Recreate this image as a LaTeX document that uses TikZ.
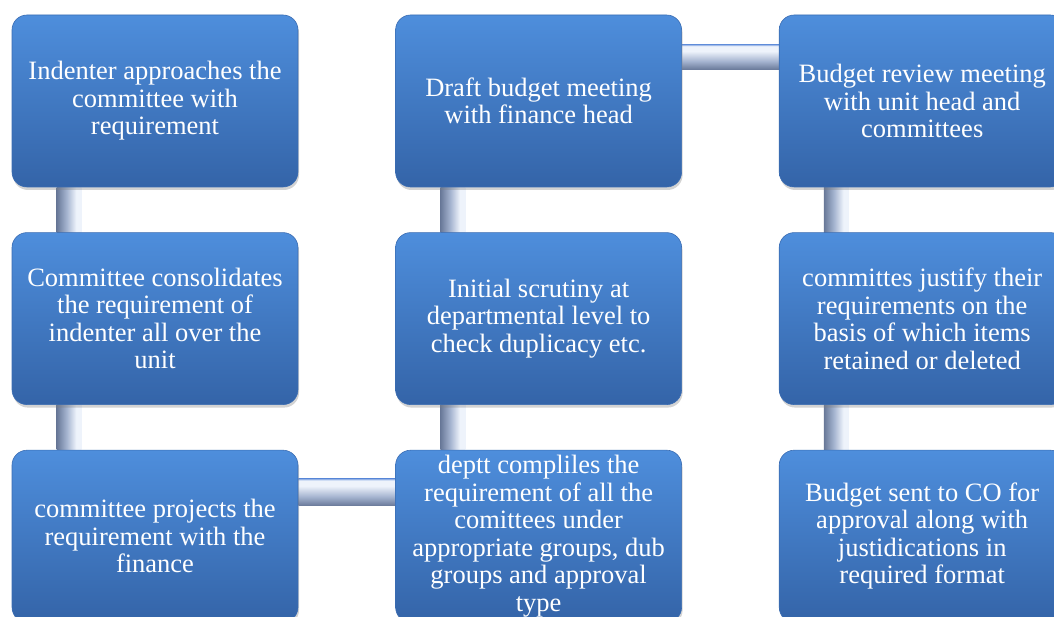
\documentclass[tikz,border=0pt]{standalone}
\usepackage{fontspec}
\setmainfont{Liberation Serif}
\usepackage{xcolor}
\usetikzlibrary{positioning, shadows, backgrounds}

\definecolor{boxtop}{RGB}{78,142,220}
\definecolor{boxbot}{RGB}{52,100,168}
\definecolor{boxedge}{RGB}{58,108,178}
\definecolor{pipelight}{RGB}{238,243,251}
\definecolor{pipemid}{RGB}{165,180,208}
\definecolor{pipeshadow}{RGB}{104,120,152}
\definecolor{pipetop}{RGB}{140,172,228}

\pgfdeclareverticalshading{hpipe}{100bp}{color(0bp)=(pipeshadow); color(25bp)=(pipeshadow); color(42bp)=(pipemid); color(62bp)=(pipelight); color(72bp)=(pipelight); color(75bp)=(pipetop); color(100bp)=(pipetop)}
\pgfdeclarehorizontalshading{vpipe}{100bp}{color(0bp)=(pipeshadow); color(25bp)=(pipeshadow); color(45bp)=(pipemid); color(64bp)=(pipelight); color(75bp)=(pipelight); color(100bp)=(pipelight)}

\tikzset{
  stepbox/.style={rectangle, rounded corners=15pt, minimum width=286pt, minimum height=172pt,
    top color=boxtop, bottom color=boxbot, draw=boxedge, line width=0.6pt,
    drop shadow={shadow xshift=1pt, shadow yshift=-3pt, opacity=0.35},
    text=white, align=center, inner sep=2pt,
    font=\fontsize{26.5}{27.5}\selectfont},
  hbar/.style={shading=hpipe},
  vbar/.style={shading=vpipe}
}

\begin{document}
\begin{tikzpicture}[node distance=45pt and 97pt]
  \useasboundingbox (0,0) rectangle (1054pt,617pt);

  \node[stepbox] (S1) at (155pt,516pt) {Indenter approaches the\\committee with\\requirement};
  \node[stepbox, below=of S1] (S2) {Committee consolidates\\the requirement of\\indenter all over the\\unit};
  \node[stepbox, below=of S2] (S3) {committee projects the\\requirement with the\\finance};
  \node[stepbox, right=of S3] (S4) {deptt compliles the\\requirement of all the\\comittees under\\appropriate groups, dub\\groups and approval\\type};
  \node[stepbox, above=of S4] (S5) {Initial scrutiny at\\departmental level to\\check duplicacy etc.};
  \node[stepbox, above=of S5] (S6) {Draft budget meeting\\with finance head};
  \node[stepbox, right=of S6] (S7) {Budget review meeting\\with unit head and\\committees};
  \node[stepbox, below=of S7] (S8) {committes justify their\\requirements on the\\basis of which items\\retained or deleted};
  \node[stepbox, below=of S8] (S9) {Budget sent to CO for\\approval along with\\justidications in\\required format};

  \begin{scope}[on background layer]
    \shade[vbar] ([xshift=45pt]S1.south west) rectangle ([xshift=70pt]S2.north west);
    \shade[vbar] ([xshift=45pt]S2.south west) rectangle ([xshift=70pt]S3.north west);
    \shade[hbar] ([yshift=-29pt]S3.north east) rectangle ([yshift=-56pt]S4.north west);
    \shade[vbar] ([xshift=45pt]S5.south west) rectangle ([xshift=70pt]S4.north west);
    \shade[vbar] ([xshift=45pt]S6.south west) rectangle ([xshift=70pt]S5.north west);
    \shade[hbar] ([yshift=-30pt]S6.north east) rectangle ([yshift=-55pt]S7.north west);
    \shade[vbar] ([xshift=45pt]S7.south west) rectangle ([xshift=70pt]S8.north west);
    \shade[vbar] ([xshift=45pt]S8.south west) rectangle ([xshift=70pt]S9.north west);
  \end{scope}
\end{tikzpicture}
\end{document}
